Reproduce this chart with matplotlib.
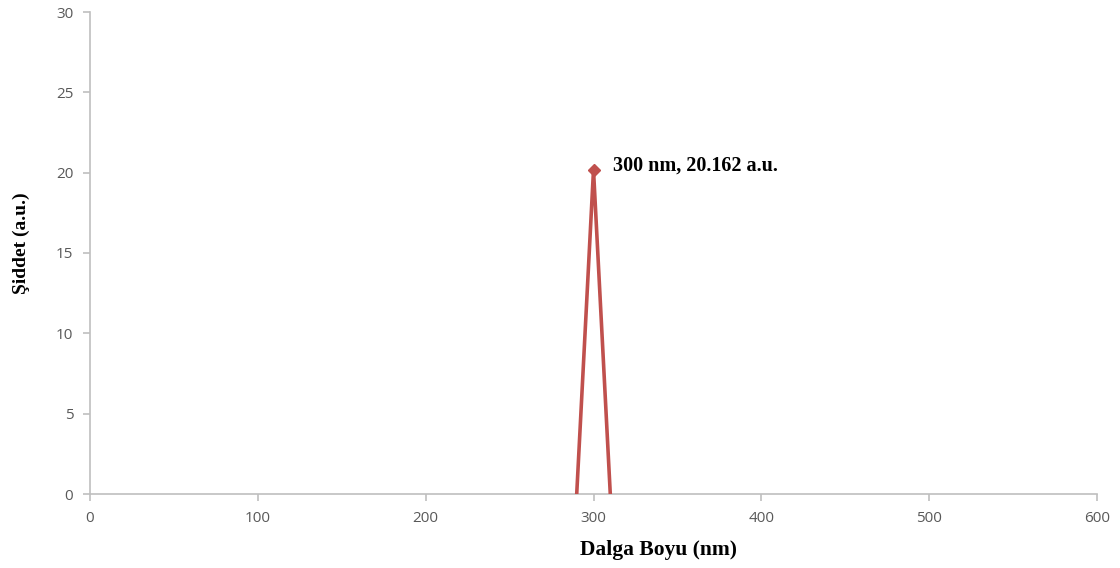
import matplotlib
matplotlib.use("Agg")
import matplotlib.pyplot as plt

wavelength = [290, 300, 310]
intensity = [0, 20.162, 0]
peak_x = 300
peak_y = 20.162
x_ticks = [0, 100, 200, 300, 400, 500, 600]
y_ticks = [0, 5, 10, 15, 20, 25, 30]

fig = plt.figure(figsize=(11.2, 5.68), dpi=100)
ax = fig.add_axes([90/1120, 74/568, (1097-90)/1120, (494-12)/568])

red = "#C0504D"
ax.plot(wavelength, intensity, color=red, lw=2.6, solid_joinstyle="miter", zorder=3)
ax.plot([peak_x], [peak_y], marker="D", color=red, ms=6.5, zorder=4)
ax.annotate("300 nm, 20.162 a.u.", (peak_x, peak_y), xytext=(14, 3),
            textcoords="offset points", fontsize=14.5, fontweight="bold",
            family="Liberation Serif", va="center", ha="left")

ax.set_xlim(0, 600)
ax.set_ylim(0, 30)
ax.set_xticks(x_ticks)
ax.set_yticks(y_ticks)
for s in ["top", "right"]:
    ax.spines[s].set_visible(False)
for s in ["left", "bottom"]:
    ax.spines[s].set_color("#BFBFBF")
    ax.spines[s].set_linewidth(1.2)
ax.tick_params(axis="both", colors="#BFBFBF", length=5, width=1.2, direction="out",
               labelcolor="#595959", labelsize=11, pad=7)
for lab in ax.get_xticklabels() + ax.get_yticklabels():
    lab.set_family("Open Sans")

ax.set_xlabel("Dalga Boyu (nm)", family="Liberation Serif", fontweight="bold",
              fontsize=15.5, labelpad=10)
ax.xaxis.set_label_coords((658 - 90) / 1007, -0.095)
ax.set_ylabel("Şiddet (a.u.)", family="Liberation Serif", fontweight="bold",
              fontsize=14, labelpad=18)
ax.yaxis.set_label_coords(-(90 - 21) / 1007 - 0.0, (494 - 243) / 482)
ax.yaxis.label.set_va("center")

fig.savefig("out.png", dpi=100)
